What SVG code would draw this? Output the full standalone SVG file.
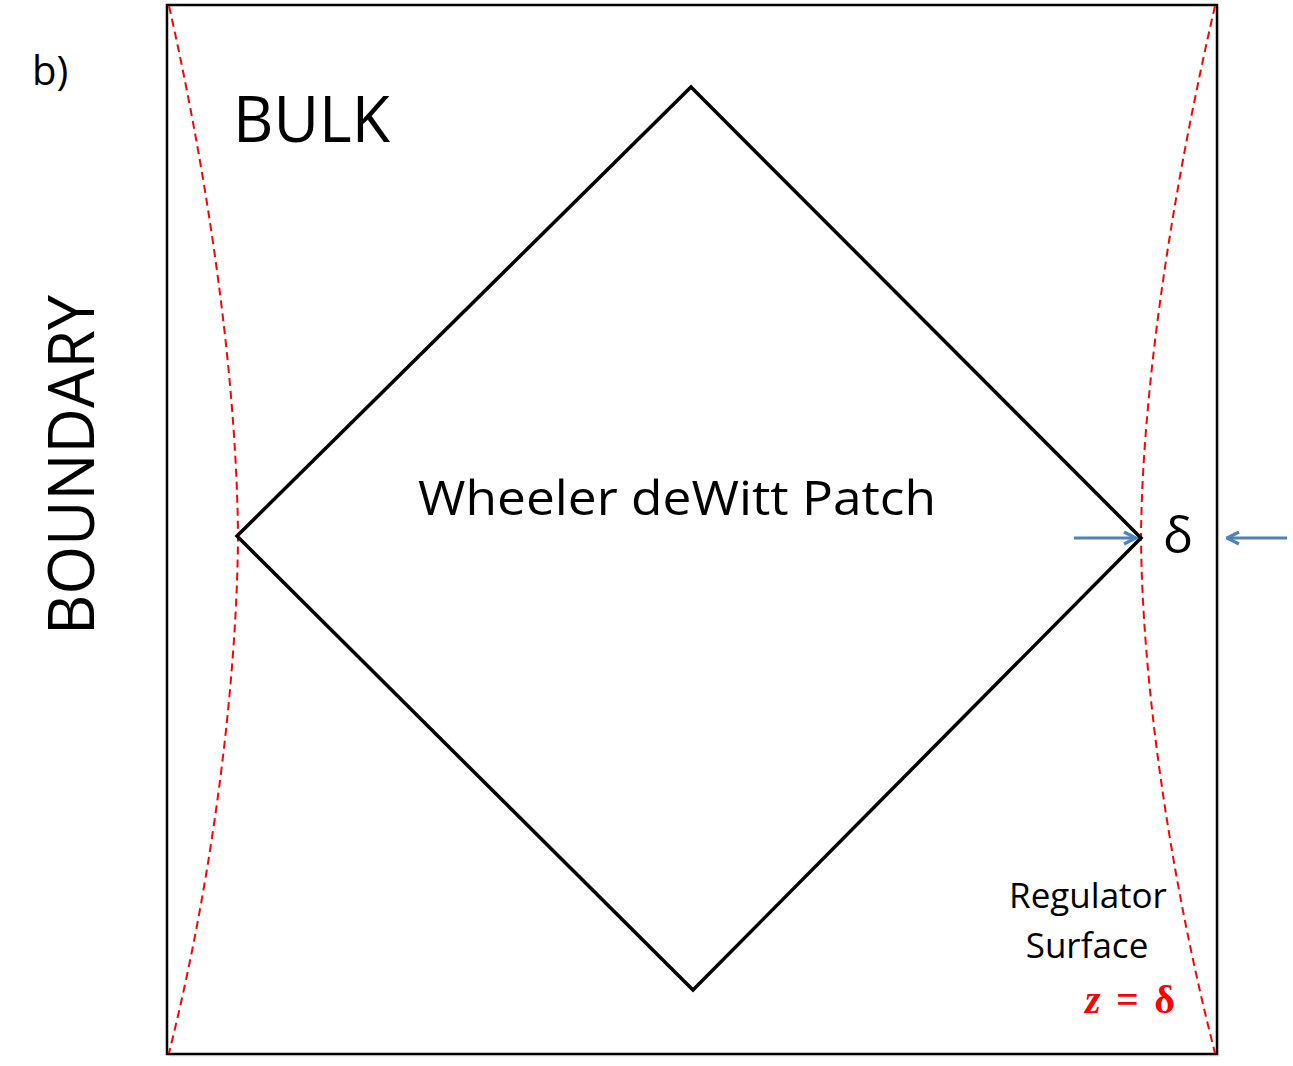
<svg xmlns="http://www.w3.org/2000/svg" width="1293" height="1066" viewBox="0 0 1293 1066">
<style>
.t{font-family:"Open Sans","Liberation Sans",sans-serif;fill:#000}
.red{fill:none;stroke:#ff0000;stroke-width:2;stroke-dasharray:8 5}
.blk{fill:none;stroke:#000;stroke-width:3.5}
.arr{stroke:#4f81bd;stroke-width:3;fill:none}
</style>
<defs>
<marker id="ah" viewBox="0 0 10 10" refX="9" refY="5" markerWidth="5" markerHeight="5" orient="auto" markerUnits="strokeWidth">
<path d="M1,1 L9,5 L1,9" fill="none" stroke="#4f81bd" stroke-width="2.2"/>
</marker>
</defs>
<rect width="1293" height="1066" fill="#fff"/>
<g id="frame">
<rect x="170" y="7" width="1050" height="1050" fill="#e6e6e6" opacity="0.6"/>
<rect x="167" y="5" width="1050" height="1049" fill="#fff" stroke="#000" stroke-width="2.5"/>
</g>
<g id="regulator-curves">
<path class="red" d="M169,6 C215,210 237,400 238,537 C237,674 215,870 169,1053"/>
<path class="red" d="M1215,6 C1168,210 1142,400 1141,538 C1142,676 1168,870 1215,1053"/>
</g>
<g id="wdw-patch">
<path class="blk" d="M691,87 L1141,538 L693,990 L237,536 Z" stroke-linejoin="miter"/>
<text class="t" x="677" y="515" font-size="48" text-anchor="middle" textLength="518" lengthAdjust="spacingAndGlyphs">Wheeler deWitt Patch</text>
</g>
<g id="connectors">
<line class="arr" x1="1074" y1="538" x2="1136" y2="538" marker-end="url(#ah)"/>
<line class="arr" x1="1287" y1="538" x2="1227" y2="538" marker-end="url(#ah)"/>
</g>
<g id="labels">
<text class="t" x="32" y="85" font-size="40">b)</text>
<text class="t" x="233" y="142" font-size="64" textLength="157" lengthAdjust="spacingAndGlyphs">BULK</text>
<text class="t" transform="translate(94,465) rotate(-90)" font-size="64" text-anchor="middle" textLength="340" lengthAdjust="spacingAndGlyphs">BOUNDARY</text>
<text class="t" x="1178" y="553" font-size="50" text-anchor="middle">δ</text>
<text class="t" x="1088" y="908" font-size="35" text-anchor="middle">Regulator</text>
<text class="t" x="1087" y="958" font-size="35" text-anchor="middle">Surface</text>
<text x="1130" y="1013" font-size="40" text-anchor="middle" font-family="'Liberation Serif',serif" font-weight="bold" fill="#ff0000" textLength="90" lengthAdjust="spacing"><tspan font-style="italic">z</tspan> = δ</text>
</g>
</svg>
